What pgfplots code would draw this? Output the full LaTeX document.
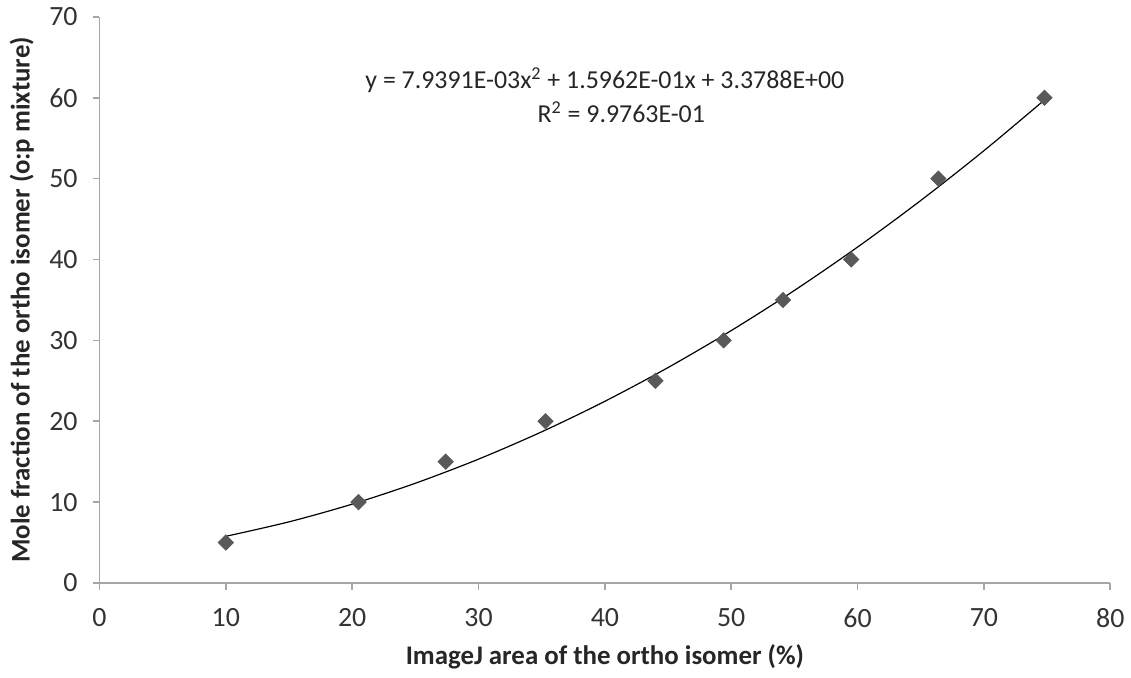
\documentclass[border=0pt]{standalone}
\usepackage{pgfplots}
\pgfplotsset{compat=1.18}
\usepackage{fontspec}
\setmainfont{Carlito}
\definecolor{axgray}{HTML}{A6A6A6}
\definecolor{markgray}{HTML}{595959}
\begin{document}
\begin{tikzpicture}
\begin{axis}[
  scale only axis,
  width=508pt, height=284.5pt,
  xmin=0, xmax=80, ymin=0, ymax=70,
  xtick={0,10,...,80}, ytick={0,10,...,70},
  axis lines*=left,
  axis line style={axgray, line width=0.8pt},
  tick style={axgray, line width=0.8pt},
  tick align=outside,
  major tick length=3.5pt,
  every tick label/.append style={font=\fontsize{14}{16}\selectfont, text=black!80},
  /pgf/number format/assume math mode=true,
  xticklabel style={yshift=-6pt},
  yticklabel style={xshift=-4pt},
  xlabel={\textbf{ImageJ area of the ortho isomer (\%)}},
  ylabel={\textbf{Mole fraction of the ortho isomer (o:p mixture)}},
  label style={font=\fontsize{13.5}{16}\selectfont, text=black!85},
  xlabel style={at={(axis description cs:0.5,0)}, anchor=center, yshift=-37pt},
  ylabel style={at={(axis description cs:0,0.5)}, anchor=center, yshift=39pt},
  clip=false,
]
\addplot[black, line width=0.6pt, smooth] coordinates {
(10,5.769) (15,7.559) (20,9.747) (25,12.331) (30,15.313) (35,18.691)
(40,22.466) (45,26.638) (50,31.208) (55,36.174) (60,41.537) (65,47.297)
(70,53.454) (74.8,59.74)
};
\addplot[only marks, mark=square*, mark size=2.7pt, mark options={fill=markgray, draw=markgray, rotate=45}] coordinates {
(10,5) (20.5,10) (27.4,15) (35.3,20) (44.0,25) (49.4,30) (54.1,35) (59.5,40) (66.4,50) (74.8,60)
};
\node[font=\fontsize{13}{15}\selectfont, text=black!85] at (axis cs:40,62.2) {y = 7.9391E-03x\textsuperscript{2} + 1.5962E-01x + 3.3788E+00};
\node[font=\fontsize{13}{15}\selectfont, text=black!85] at (axis cs:41.3,58.2) {R\textsuperscript{2} = 9.9763E-01};
\end{axis}
\path (current axis.south west) ++(-50pt,-47.5pt) coordinate (bbA);
\path (current axis.north east) ++(7.5pt,8.5pt) coordinate (bbB);
\path (bbA) rectangle (bbB);
\end{tikzpicture}
\end{document}
